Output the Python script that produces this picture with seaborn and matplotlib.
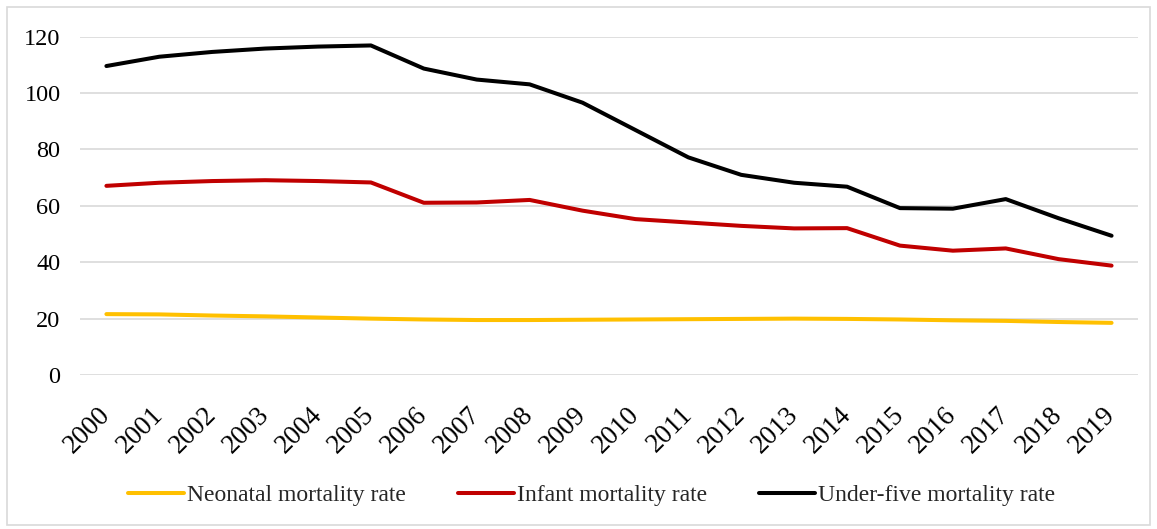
import matplotlib
matplotlib.use("Agg")
import matplotlib.pyplot as plt
import matplotlib.patches as mpatches
import seaborn as sns
import pandas as pd

years = [str(y) for y in range(2000, 2020)]
neonatal = [21.6, 21.5, 21.1, 20.8, 20.4, 20.0, 19.7, 19.5, 19.5, 19.6,
            19.7, 19.8, 19.9, 20.0, 19.9, 19.7, 19.4, 19.2, 18.8, 18.5]
infant = [67.1, 68.2, 68.8, 69.1, 68.8, 68.3, 61.1, 61.2, 62.1, 58.3,
          55.3, 54.1, 52.9, 52.0, 52.1, 45.9, 44.1, 44.9, 41.1, 38.8]
under_five = [109.6, 112.9, 114.6, 115.8, 116.5, 116.9, 108.7, 104.8, 103.1, 96.6,
              86.9, 77.2, 71.0, 68.2, 66.8, 59.2, 59.0, 62.4, 55.6, 49.4]
series_names = ["Neonatal mortality rate", "Infant mortality rate", "Under-five mortality rate"]
colors = ["#FFC000", "#C00000", "#000000"]

df = pd.DataFrame({
    "year": years * 3,
    "idx": list(range(len(years))) * 3,
    "value": neonatal + infant + under_five,
    "series": [series_names[0]] * len(years) + [series_names[1]] * len(years) + [series_names[2]] * len(years),
})

sns.set_theme(style="white")
plt.rcParams["font.family"] = ["Liberation Serif", "DejaVu Serif"]

fig = plt.figure(figsize=(11.57, 5.29), dpi=100)
ax = fig.add_axes([0.0691, 0.2911, 0.9145, 0.6395])

# light frame around the whole chart
fig.patches.append(mpatches.Rectangle((7 / 1157, 4 / 529), 1143 / 1157, 518 / 529,
                                      transform=fig.transFigure, fill=False,
                                      edgecolor="#D9D9D9", linewidth=1.2))

sns.lineplot(data=df, x="idx", y="value", hue="series", hue_order=series_names,
             palette=colors, linewidth=2.9, ax=ax, legend=False,
             solid_capstyle="round", solid_joinstyle="round")

ax.set_xlim(-0.5, len(years) - 0.5)
ax.set_ylim(0, 120)
ax.set_yticks(range(0, 121, 20))
ax.set_xticks(range(len(years)))
ax.set_xticklabels(years, rotation=45, ha="right", va="center", rotation_mode="anchor")
ax.tick_params(axis="x", labelsize=19.5, pad=26, length=0)
ax.tick_params(axis="y", labelsize=17.5, pad=14, length=0)
for lab in ax.get_xticklabels() + ax.get_yticklabels():
    lab.set_color("#000000")
ax.grid(axis="y", color="#D9D9D9", linewidth=1.2)
ax.set_axisbelow(True)
for s in ax.spines.values():
    s.set_visible(False)
ax.set_xlabel("")
ax.set_ylabel("")

handles = [plt.Line2D([], [], color=c, linewidth=2.9) for c in colors]
fig.legend(handles, series_names, loc="center", bbox_to_anchor=(0.511, 0.064),
           ncol=3, frameon=False, fontsize=17, handlelength=2.4,
           handletextpad=0.1, columnspacing=2.2)

fig.savefig("out.png", dpi=100)
